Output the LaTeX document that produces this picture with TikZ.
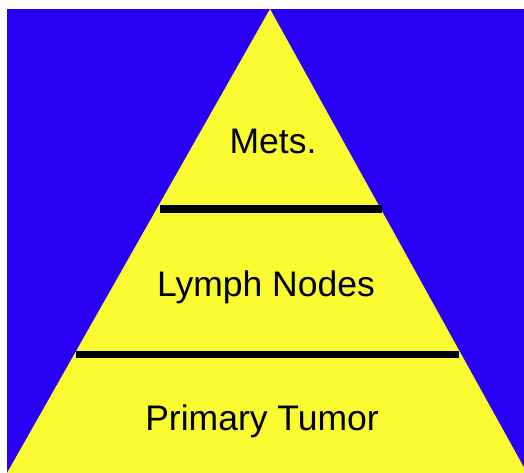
\documentclass[tikz,border=0pt]{standalone}
\usepackage{fontspec}
\setmainfont{Liberation Sans}
\definecolor{bgblue}{RGB}{41,0,245}
\definecolor{pyellow}{RGB}{250,250,48}
\tikzset{
  bar/.style={line width=7.5pt, black},
  lbl/.style={anchor=base, inner sep=0pt, font=\fontsize{35.5}{40}\selectfont}
}
\begin{document}
\begin{tikzpicture}[x=1pt,y=1pt]
\useasboundingbox (0,0) rectangle (524,473);
\fill[white] (0,0) rectangle (524,473);
\fill[bgblue] (7,0) rectangle (524,464);
\coordinate (apex) at (270,464);
\coordinate (bl) at (7,0);
\coordinate (br) at (527,0);
\fill[pyellow] (apex) -- (bl) -- (br) -- cycle;
\clip (0,0) rectangle (524,473);
\coordinate (l1a) at (160,264);
\coordinate (l1b) at (382,264);
\coordinate (l2a) at (76,118.5);
\coordinate (l2b) at (459,118.5);
\draw[bar] (l1a) -- (l1b);
\draw[bar] (l2a) -- (l2b);
\node[lbl] (mets) at (273,319) {Mets.};
\node[lbl] (lymph) at (266,176) {Lymph Nodes};
\node[lbl] (prim) at (262,42) {Primary Tumor};
\end{tikzpicture}
\end{document}
